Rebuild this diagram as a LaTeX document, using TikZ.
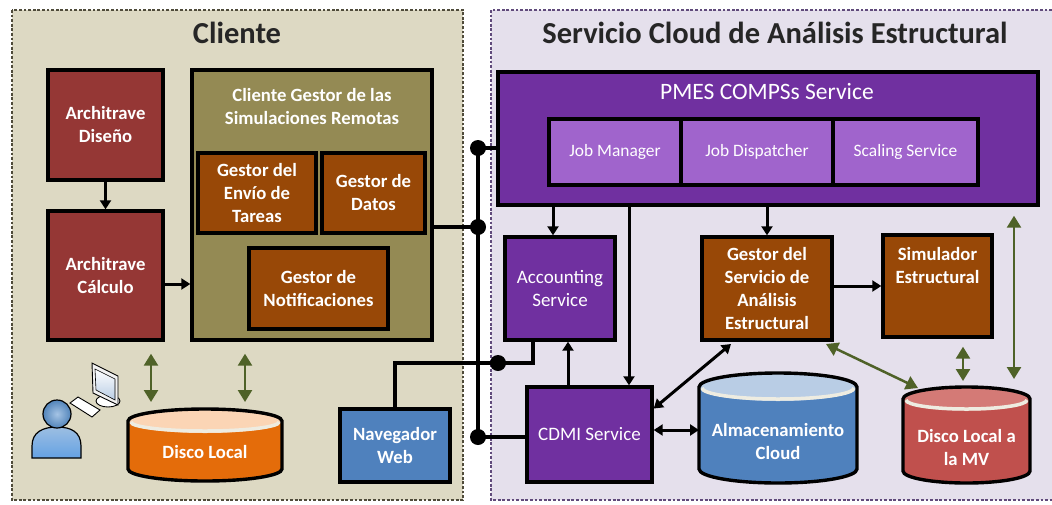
\documentclass[tikz,border=0pt]{standalone}
\usepackage{fontspec}
\setmainfont{Carlito}
\usetikzlibrary{arrows.meta,positioning}

\definecolor{cliBg}{HTML}{DDD9C3}
\definecolor{cliLine}{HTML}{4F4B3A}
\definecolor{srvBg}{HTML}{E5E0EC}
\definecolor{srvLine}{HTML}{604A7B}
\definecolor{archRed}{HTML}{953735}
\definecolor{olive}{HTML}{948A54}
\definecolor{brownBox}{HTML}{984807}
\definecolor{purpleBox}{HTML}{7030A0}
\definecolor{lilac}{HTML}{A064CC}
\definecolor{blueBox}{HTML}{4F81BD}
\definecolor{diskOrange}{HTML}{E46C0A}
\definecolor{diskOrangeTop}{HTML}{FBD5B5}
\definecolor{diskRed}{HTML}{C0504D}
\definecolor{diskRedTop}{HTML}{D47A76}
\definecolor{diskBlueTop}{HTML}{B9CDE5}
\definecolor{rim}{HTML}{EEECE1}
\definecolor{arrGreen}{HTML}{4F6228}
\definecolor{titleInk}{HTML}{262626}
\definecolor{userBlue}{HTML}{5B93CF}

\newcommand\titlefont{\fontsize{30.5pt}{36pt}\selectfont\bfseries}
\newcommand\lblfont{\fontsize{18.7pt}{23pt}\selectfont\bfseries}
\newcommand\svcfont{\fontsize{19pt}{23pt}\selectfont}
\newcommand\pmesfont{\fontsize{23.5pt}{28pt}\selectfont}
\newcommand\jobfont{\fontsize{17.4pt}{21pt}\selectfont}

\begin{document}
\begin{tikzpicture}[x=1pt,y=1pt,yscale=-1,
		box/.style={draw=black,line width=3.4pt,inner sep=0pt,align=center,text=white,font=\lblfont},
		redbox/.style={box,fill=archRed},
		olivebox/.style={box,fill=olive},
		brownbox/.style={box,fill=brownBox},
		purplebox/.style={box,fill=purpleBox,font=\svcfont},
		jobbox/.style={box,fill=lilac,font=\jobfont},
		bluebox/.style={box,fill=blueBox},
		disklbl/.style={inner sep=0pt,align=center,text=white,font=\lblfont},
		title/.style={inner sep=0pt,text=titleInk,font=\titlefont},
		panelcli/.style={draw=cliLine,fill=cliBg,line width=2.8pt,dash pattern=on 2.8pt off 1.8pt},
		panelsrv/.style={draw=srvLine,fill=srvBg,line width=2.8pt,dash pattern=on 2.8pt off 1.8pt},
		arr/.style={line width=3pt,-{Triangle[length=9pt,width=11pt]}},
		arrboth/.style={line width=3pt,{Triangle[length=9pt,width=11pt]}-{Triangle[length=9pt,width=11pt]}},
		garr/.style={draw=arrGreen,line width=2.5pt,{Triangle[length=12pt,width=14pt]}-{Triangle[length=12pt,width=14pt]}},
		bus/.style={line width=4pt},
		dot/.style={circle,fill=black,inner sep=0pt,minimum size=16pt}]
	\useasboundingbox (0,0) rectangle (1052,504);
	\clip (0,0) rectangle (1052,504);
	\fill[white] (0,0) rectangle (1052,504);
	
	%Shape: Rectangle [client area]
	\draw[panelcli] (12,10) rectangle (463,500);
	%Shape: Rectangle [cloud area]
	\draw[panelsrv] (491,10) rectangle (1075,500);
	
	\node[title] (cli-title) at (237,33) {Cliente};
	\node[title] (srv-title) at (775,33) {Servicio Cloud de Análisis Estructural};
	
	%Client boxes
	\node[redbox,minimum width=115pt,minimum height=110pt] (dis) at (105.5,125) {Architrave\\Diseño};
	\node[redbox,minimum width=115pt,minimum height=129pt] (cal) at (105.5,275.5) {Architrave\\Cálculo};
	\node[olivebox,minimum width=240pt,minimum height=270pt] (cgsr) at (312,205) {};
	\node[inner sep=0pt,align=center,text=white,font=\lblfont] (cgsr-t) at (312,106.5) {Cliente Gestor de las\\Simulaciones Remotas};
	\node[brownbox,minimum width=118pt,minimum height=80pt] (env) at (257,193) {Gestor del\\Envío de\\Tareas};
	\node[brownbox,minimum width=103pt,minimum height=80pt] (dat) at (373.5,193) {Gestor de\\Datos};
	\node[brownbox,minimum width=139pt,minimum height=81pt] (noti) at (318.5,288.5) {Gestor de\\Notificaciones};
	\node[bluebox,minimum width=110pt,minimum height=73pt] (nav) at (395,445.5) {Navegador\\Web};
	
	%Shape: Can [local disk]
	\fill[diskOrange] (128,421) -- (128,469) arc[start angle=180,end angle=0,x radius=77,y radius=12] -- (282,421) -- cycle;
	\fill[diskOrangeTop] (205,421) ellipse[x radius=77,y radius=12];
	\draw[rim,line width=3.5pt] (131,422) arc[start angle=180,end angle=0,x radius=74,y radius=9];
	\draw[line width=3.4pt] (282,421) arc[start angle=0,end angle=-180,x radius=77,y radius=12] -- (128,469) arc[start angle=180,end angle=0,x radius=77,y radius=12] -- cycle;
	\node[disklbl] (dl) at (205,452) {Disco Local};
	\coordinate (dl-a) at (151,409);
	\coordinate (dl-b) at (245,409);
	
	%User at the workstation
	\draw[line width=0.9pt,fill=white] (108,401) ellipse[x radius=12,y radius=6];
	\draw[line width=0.9pt,fill=black!5] (92,363) -- (118,376) -- (118,405) -- (93,393) -- cycle;
	\draw[line width=0.6pt,top color=white,bottom color=diskBlueTop] (95,369) -- (115,379) -- (115,400) -- (96,390) -- cycle;
	\draw[line width=0.9pt,fill=white] (70,403) -- (78,397) -- (100,410) -- (92,417) -- cycle;
	\draw[line width=1.2pt,top color=userBlue!60,bottom color=userBlue!110!black] (32,458) -- (32,446) .. controls (32,432) and (43,427) .. (57,427) .. controls (71,427) and (81,432) .. (81,446) -- (81,458) -- cycle;
	\draw[line width=1.2pt,inner color=userBlue!55,outer color=userBlue!90!black] (57,414) circle (14);
	
	%Cloud service boxes
	\node[box,fill=purpleBox,minimum width=540pt,minimum height=133pt] (pmes) at (768,138.5) {};
	\node[inner sep=0pt,text=white,font=\pmesfont] (pmes-t) at (767,91) {PMES COMPSs Service};
	\node[jobbox,minimum width=132pt,minimum height=66pt] (jm) at (615,152) {Job Manager};
	\node[jobbox,minimum width=152pt,minimum height=66pt] (jd) at (757,152) {Job Dispatcher};
	\node[jobbox,minimum width=145pt,minimum height=66pt] (ss) at (905.5,152) {Scaling Service};
	\node[purplebox,minimum width=110pt,minimum height=103pt] (acc) at (560,288.5) {Accounting\\Service};
	\node[purplebox,minimum width=125pt,minimum height=95pt] (cdmi) at (589.5,434.5) {CDMI Service};
	\node[brownbox,minimum width=130pt,minimum height=103pt] (gsae) at (767,288.5) {Gestor del\\Servicio de\\Análisis\\Estructural};
	\node[brownbox,minimum width=109pt,minimum height=102pt] (sim) at (937.5,286) {};
	\node[inner sep=0pt,align=center,text=white,font=\lblfont] (sim-t) at (937.5,266) {Simulador\\Estructural};
	
	%Shape: Can [cloud storage]
	\fill[blueBox] (699,387) -- (699,469) arc[start angle=180,end angle=0,x radius=79,y radius=14] -- (857,387) -- cycle;
	\fill[diskBlueTop] (778,387) ellipse[x radius=79,y radius=14];
	\draw[rim,line width=3.5pt] (702,388) arc[start angle=180,end angle=0,x radius=76,y radius=11];
	\draw[line width=3.4pt] (857,387) arc[start angle=0,end angle=-180,x radius=79,y radius=14] -- (699,469) arc[start angle=180,end angle=0,x radius=79,y radius=14] -- cycle;
	\node[disklbl] (alm) at (778,441) {Almacenamiento\\Cloud};
	\coordinate (alm-w) at (699,430);
	
	%Shape: Can [VM disk]
	\fill[diskRed] (903,399) -- (903,471) arc[start angle=180,end angle=0,x radius=63.5,y radius=12] -- (1030,399) -- cycle;
	\fill[diskRedTop] (966.5,399) ellipse[x radius=63.5,y radius=12];
	\draw[rim,line width=3.5pt] (906,400) arc[start angle=180,end angle=0,x radius=60.5,y radius=9];
	\draw[line width=3.4pt] (1030,399) arc[start angle=0,end angle=-180,x radius=63.5,y radius=12] -- (903,471) arc[start angle=180,end angle=0,x radius=63.5,y radius=12] -- cycle;
	\node[disklbl] (dmv) at (966.5,447) {Disco Local a\\la MV};
	\coordinate (dmv-a) at (918,388);
	\coordinate (dmv-b) at (963,387);
	\coordinate (dmv-c) at (1014,387);
	
	%Bus and junctions
	\node[dot] (j1) at (478,148) {};
	\node[dot] (j2) at (478,227) {};
	\node[dot] (j3) at (498,363) {};
	\node[dot] (j4) at (478,437) {};
	\draw[bus] (j1.center) -- (j4.center);
	\draw[bus] (j1.center) -- (j1 -| pmes.west);
	\draw[bus] (cgsr.east |- j2) -- (j2.center);
	\draw[bus] (j4.center) -- (j4 -| cdmi.west);
	\coordinate (acc-s) at (533,340);
	\draw[bus] (nav.north) |- (j3.center) -| (acc-s);
	
	%Straight Lines
	\draw[arr] (dis) -- (cal);
	\coordinate (cal-e) at (163,284);
	\draw[arr] (cal-e) -- (cal-e -| cgsr.west);
	\coordinate (pm-a) at (553,205);
	\draw[arr] (pm-a) -- (pm-a |- acc.north);
	\coordinate (pm-c) at (629,205);
	\draw[arr] (pm-c) -- (pm-c |- cdmi.north);
	\draw[arr] (gsae.north |- pmes.south) -- (gsae.north);
	\coordinate (cd-a) at (568,387);
	\draw[arr] (cd-a) -- (cd-a |- acc.south);
	\draw[arr] (gsae.east |- sim) -- (sim.west);
	\coordinate (gs-b) at (731,344);
	\draw[arrboth] (cdmi.22) -- (gs-b);
	\draw[arrboth] (cdmi.east |- alm-w) -- (alm-w);
	
	%Green links to the disks
	\draw[garr,shorten <=12pt,shorten >=7pt] (cal.south -| dl-a) -- (dl-a);
	\draw[garr,shorten <=12pt,shorten >=7pt] (cgsr.south -| dl-b) -- (dl-b);
	\coordinate (gs-c) at (826,344);
	\draw[garr] (gs-c) -- (dmv-a);
	\draw[garr,shorten <=8pt,shorten >=6pt] (dmv-b |- sim.south) -- (dmv-b);
	\draw[garr,shorten <=9pt,shorten >=8pt] (dmv-c |- pmes.south) -- (dmv-c);
	
\end{tikzpicture}
\end{document}
